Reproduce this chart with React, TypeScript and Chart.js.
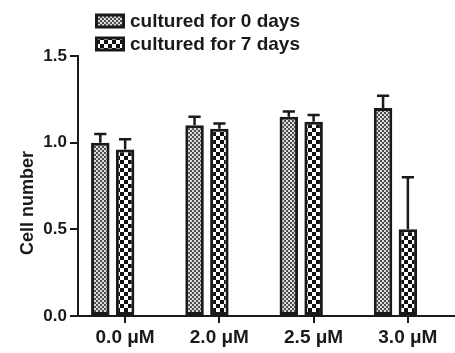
import React, { useEffect, useRef } from "react";
import { Chart, registerables } from "chart.js";

Chart.register(...registerables);

const categories = ["0.0 μM", "2.0 μM", "2.5 μM", "3.0 μM"];
const seriesNames = ["cultured for 0 days", "cultured for 7 days"];
const day0 = [1.0, 1.1, 1.15, 1.2];
const day0Err = [0.05, 0.05, 0.03, 0.07];
const day7 = [0.96, 1.08, 1.12, 0.5];
const day7Err = [0.06, 0.03, 0.04, 0.3];
const yTicks = [0, 0.5, 1.0, 1.5];
const yTitle = "Cell number";

const FONT = "'Liberation Sans', Arial, Helvetica, sans-serif";
const INK = "#1a1a1a";

function makePattern(kind: number): CanvasPattern | string {
  const c = document.createElement("canvas");
  const ctx = c.getContext("2d");
  if (!ctx) return "#888";
  if (kind === 0) {
    c.width = 4; c.height = 4;
    ctx.fillStyle = "#dcdcdc"; ctx.fillRect(0, 0, 4, 4);
    ctx.fillStyle = "#4e4e4e";
    ctx.fillRect(0, 0, 2, 2); ctx.fillRect(2, 2, 2, 2);
  } else {
    c.width = 8; c.height = 8;
    ctx.fillStyle = "#ffffff"; ctx.fillRect(0, 0, 8, 8);
    ctx.fillStyle = "#111111";
    ctx.fillRect(0, 0, 4, 4); ctx.fillRect(4, 4, 4, 4);
  }
  const p = ctx.createPattern(c, "repeat");
  return p || "#888";
}

export default function App() {
  const ref = useRef<HTMLCanvasElement | null>(null);

  useEffect(() => {
    document.body.style.margin = "0";
    if (!ref.current) return;
    const pats = [makePattern(0), makePattern(1)];
    const errs = [day0Err, day7Err];

    const errorBars = {
      id: "errorBars",
      afterDatasetsDraw(chart: any) {
        const ctx = chart.ctx;
        const ys = chart.scales.y;
        ctx.save();
        ctx.strokeStyle = INK;
        ctx.lineWidth = 2.5;
        [0, 1].forEach((di) => {
          const meta = chart.getDatasetMeta(di);
          const vals = chart.data.datasets[di].data as number[];
          meta.data.forEach((el: any, i: number) => {
            const top = ys.getPixelForValue(vals[i] + errs[di][i]);
            const half = el.width * 0.33;
            ctx.beginPath();
            ctx.moveTo(el.x, el.y);
            ctx.lineTo(el.x, top);
            ctx.moveTo(el.x - half, top);
            ctx.lineTo(el.x + half, top);
            ctx.stroke();
          });
        });
        ctx.restore();
      },
    };

    const customLegend = {
      id: "customLegend",
      afterDraw(chart: any) {
        const ctx = chart.ctx;
        ctx.save();
        const x0 = 95, ys = [21, 44], bw = 30, bh = 13;
        seriesNames.forEach((name, i) => {
          const y = ys[i];
          ctx.fillStyle = INK;
          ctx.fillRect(x0, y - bh / 2 - 1, bw, bh + 2);
          ctx.fillStyle = pats[i];
          ctx.fillRect(x0 + 3, y - bh / 2 + 2, bw - 6, bh - 4);
          ctx.fillStyle = INK;
          ctx.font = `bold 19px ${FONT}`;
          ctx.textBaseline = "middle";
          ctx.textAlign = "left";
          ctx.fillText(name, x0 + 35, y + 1);
        });
        // y axis title
        ctx.translate(28, 203);
        ctx.rotate(-Math.PI / 2);
        ctx.font = `bold 18px ${FONT}`;
        ctx.textAlign = "center";
        ctx.textBaseline = "middle";
        ctx.fillText(yTitle, 0, 0);
        ctx.restore();
      },
    };

    const chart = new Chart(ref.current, {
      type: "bar",
      data: {
        labels: categories,
        datasets: [
          { label: seriesNames[0], data: day0, backgroundColor: pats[0] as any, borderColor: INK, borderWidth: 3, borderSkipped: false },
          { label: seriesNames[1], data: day7, backgroundColor: pats[1] as any, borderColor: INK, borderWidth: 3, borderSkipped: false },
          { label: "", data: categories.map(() => null), backgroundColor: "transparent" },
        ],
      },
      options: {
        animation: false,
        responsive: true,
        maintainAspectRatio: false,
        layout: { padding: { top: 56, left: 0, right: -10, bottom: 0 } },
        datasets: { bar: { categoryPercentage: 0.79, barPercentage: 0.745 } },
        plugins: { legend: { display: false }, tooltip: { enabled: false } },
        scales: {
          x: {
            offset: true,
            grid: { display: true, offset: false, drawOnChartArea: false, drawTicks: true, tickLength: 7, color: INK, lineWidth: 2 },
            border: { display: true, color: INK, width: 2 },
            ticks: { color: INK, font: { family: FONT, size: 19, weight: "bold" }, padding: 3, maxRotation: 0 },
            afterFit: (s: any) => { s.height = 37; },
          },
          y: {
            min: 0,
            max: 1.5,
            afterBuildTicks: (s: any) => { s.ticks = yTicks.map((v) => ({ value: v })); },
            grid: { display: true, drawOnChartArea: false, drawTicks: true, tickLength: 8, color: INK, lineWidth: 2 },
            border: { display: true, color: INK, width: 2 },
            ticks: { color: INK, font: { family: FONT, size: 17, weight: "bold" }, padding: 3, callback: (v: any) => Number(v).toFixed(1) },
            afterFit: (s: any) => { s.width = 78; },
          },
        },
      },
      plugins: [errorBars, customLegend],
    } as any);
    return () => chart.destroy();
  }, []);

  return (
    <div style={{ width: 455, height: 353, position: "relative", background: "#fff" }}>
      <canvas ref={ref} />
    </div>
  );
}
